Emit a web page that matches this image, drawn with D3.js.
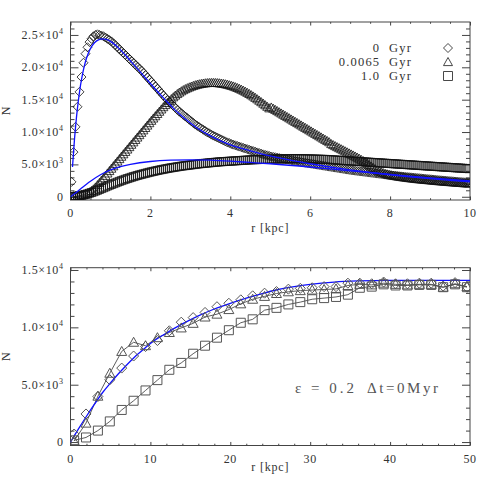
<!DOCTYPE html>
<html><head><meta charset="utf-8">
<script src="https://cdn.jsdelivr.net/npm/d3@7"></script>
<style>body{margin:0;background:#fff}svg{display:block}</style>
</head><body><svg id="c" width="491" height="491"></svg>
<script>
// ---------------- DATA ----------------
// Top panel: radial bins of 0.05 kpc (bin centres)
const topBinWidth = 0.05;
const topDiamond = [2300,6900,10800,13900,16200,18500,20700,22100,23100,23900,
24400,24800,25000,25100,25000,24900,24800,24600,24400,24200,
24000,23700,23400,23100,22800,22500,22200,21900,21600,21300,
21000,20700,20400,20100,19800,19500,19150,18800,18450,18100,
17750,17400,17050,16700,16350,16000,15650,15300,14950,14650,
14350,14050,13750,13450,13150,12900,12650,12400,12150,11900,
11650,11400,11150,10950,10750,10550,10350,10150,9950,9800,
9600,9450,9300,9150,9000,8850,8700,8550,8400,8300,
8150,8050,7950,7850,7750,7650,7550,7450,7350,7250,
7150,7050,6950,6850,6750,6650,6550,6450,6400,6300,
6220,6150,6100,6040,5980,5920,5860,5800,5750,5700,
5640,5580,5520,5470,5420,5360,5300,5250,5200,5150,
5100,5050,5000,4950,4900,4850,4800,4750,4700,4650,
4600,4550,4500,4450,4400,4350,4300,4250,4200,4150,
4100,4060,4020,3980,3940,3900,3860,3820,3780,3740,
3700,3660,3620,3580,3540,3500,3460,3420,3380,3340,
3300,3270,3240,3210,3180,3150,3120,3090,3060,3030,
3000,2970,2940,2910,2880,2850,2820,2790,2760,2730,
2700,2670,2640,2610,2580,2550,2520,2500,2470,2440,
2420,2390,2360,2340,2310,2290,2260,2240,2210,2190];
const topTriangle = [50,80,100,150,200,260,330,420,520,640,
900,1150,1450,1800,2150,2500,2870,3240,3610,3980,
4350,4720,5090,5460,5830,6200,6570,6940,7310,7680,
8050,8420,8790,9160,9530,9900,10270,10640,11010,11380,
11750,12100,12450,12800,13150,13500,13850,14180,14500,14800,
15100,15380,15640,15880,16100,16300,16480,16640,16780,16910,
17030,17140,17240,17320,17390,17450,17500,17540,17570,17590,
17600,17600,17590,17570,17540,17500,17450,17390,17320,17240,
17150,17050,16940,16820,16690,16550,16400,16240,16070,15890,
15700,15500,15290,15070,14850,14620,14390,14150,13910,13670,
13800,13615,13430,13245,13060,12875,12690,12505,12320,12135,
11950,11765,11580,11395,11210,11025,10840,10655,10470,10285,
10100,9915,9730,9545,9360,9175,8990,8805,8620,8435,
8150,7990,7830,7670,7510,7350,7190,7030,6870,6710,
6550,6390,6230,6070,5900,5720,5530,5330,5120,4900,
4680,4470,4270,4090,3930,3790,3670,3570,3480,3400,
3330,3270,3210,3160,3110,3060,3010,2970,2930,2890,
2850,2810,2770,2740,2710,2680,2650,2620,2590,2560,
2530,2500,2470,2440,2410,2390,2360,2330,2310,2280,
2260,2230,2210,2180,2160,2140,2110,2090,2070,2050];
const topSquare = [0,30,60,100,150,210,280,360,450,550,
650,760,880,1000,1130,1260,1390,1520,1650,1780,
1900,2020,2140,2260,2380,2490,2600,2710,2810,2910,
3010,3110,3200,3290,3380,3460,3540,3620,3700,3780,
3850,3920,3990,4060,4130,4190,4250,4310,4370,4430,
4480,4530,4580,4630,4680,4730,4770,4810,4850,4890,
4930,4970,5010,5050,5090,5120,5150,5180,5210,5240,
5270,5300,5330,5360,5390,5410,5430,5450,5470,5490,
5510,5530,5550,5570,5590,5610,5630,5650,5670,5690,
5710,5720,5730,5740,5750,5760,5770,5780,5790,5800,
5810,5820,5830,5840,5850,5860,5860,5870,5870,5880,
5880,5880,5880,5880,5880,5870,5870,5860,5860,5850,
5840,5830,5820,5810,5800,5790,5780,5770,5760,5740,
5720,5700,5680,5660,5640,5620,5600,5580,5560,5540,
5520,5500,5480,5460,5440,5420,5400,5380,5360,5340,
5320,5300,5280,5260,5240,5220,5200,5180,5160,5140,
5120,5100,5080,5060,5040,5020,5000,4980,4960,4940,
4920,4900,4880,4860,4840,4820,4800,4780,4760,4740,
4720,4700,4680,4660,4640,4620,4600,4580,4560,4540,
4520,4500,4480,4460,4440,4420,4400,4380,4360,4340];
// Top panel blue model curves
const fitA_r = [0.05,0.1,0.15,0.2,0.25,0.3,0.35,0.4,0.5,0.6,0.7,0.8,0.9,1.0,1.2,1.4,1.6,1.8,2.0,2.2,2.4,2.6,2.8,3.0,3.2,3.5,4.0,4.5,5.0,5.5,6.0,6.5,7.0,7.5,8.0,8.5,9.0,9.5,10.0];
const fitA_v = [4600,8900,12300,15000,17200,18900,20300,21400,22900,23800,24250,24400,24300,24000,23000,21700,20300,18900,17500,16100,14800,13500,12400,11400,10500,9400,8000,7100,6300,5650,5100,4600,4150,3750,3400,3080,2800,2550,2320];
const fitB_r = [0,0.1,0.25,0.5,0.75,1.0,1.25,1.5,2.0,2.5,3.0,3.5,4.0,4.5,5.0,6.0,7.0,8.0,9.0,10.0];
const fitB_v = [0,450,1200,2400,3400,4150,4650,5000,5450,5650,5700,5650,5500,5300,5100,4600,4000,3450,2900,2450];

// Bottom panel: cumulative counts at 34 radii
const botR = [0.45,1.94,3.43,4.92,6.41,7.9,9.39,10.88,12.37,13.86,15.35,16.84,18.33,19.82,21.31,22.8,24.29,25.78,27.27,28.76,30.25,31.74,33.23,34.72,36.21,37.7,39.19,40.68,42.17,43.66,45.15,46.64,48.13,49.62];
const botDiamond = [700,2450,3970,5430,6450,7500,8330,8850,9700,10450,10850,11300,11800,12100,12400,12750,12980,13120,13330,13400,13450,13550,13550,13850,13850,13800,13950,13800,13800,13850,13850,13600,13900,13500];
const botTriangle = [100,1650,4000,6000,7900,8700,8400,9100,9550,9950,10350,10900,11150,11550,12050,12450,12700,12950,13100,13200,13250,13300,13350,13650,13750,13700,13850,13750,13700,13750,13750,13500,13800,13550];
const botSquare = [150,400,1000,1800,2800,3600,4500,5400,6300,6900,7700,8400,9100,9750,10400,10700,11500,11700,12000,12200,12450,12550,12650,12850,13450,13550,13750,13650,13650,13700,13700,13500,13750,13500];
const fitC_r = [0,1,2,3,4,5,6,7,8,9,10,12,14,16,18,20,22,24,26,28,30,33,36,40,45,50];
const fitC_v = [0,1150,2250,3300,4300,5150,5950,6700,7400,8000,8600,9500,10300,11000,11600,12100,12550,12950,13300,13550,13750,13950,14050,14100,14100,14100];

// Ticks and labels
const topXTicks = [0,2,4,6,8,10];
const topYTicks = [0,5000,10000,15000,20000,25000];
const topYLabels = [["0",""],["5.0×10","3"],["1.0×10","4"],["1.5×10","4"],["2.0×10","4"],["2.5×10","4"]];
const botXTicks = [0,10,20,30,40,50];
const botYTicks = [0,5000,10000,15000];
const botYLabels = [["0",""],["5.0×10","3"],["1.0×10","4"],["1.5×10","4"]];
const legendLabels = ["0 Gyr","0.0065 Gyr","1.0 Gyr"];
const xTitle = "r [kpc]";
const yTitle = "N";

// ---------------- DRAWING ----------------
const svg = d3.select("#c");
const FONT = "'Liberation Serif','DejaVu Serif',serif";
const TXT = "#333";

const symDiamond = {draw(c,s){c.moveTo(0,-s);c.lineTo(s,0);c.lineTo(0,s);c.lineTo(-s,0);c.closePath();}};
const symTri = {draw(c,s){c.moveTo(0,-s);c.lineTo(s,0.8*s);c.lineTo(-s,0.8*s);c.closePath();}};
const symSquare = {draw(c,s){c.rect(-s,-s,2*s,2*s);}};

function panel(cfg){
  const g = svg.append("g");
  const x = d3.scaleLinear().domain(cfg.xd).range([cfg.L, cfg.R]);
  const y = d3.scaleLinear().domain(cfg.yd).range([cfg.B, cfg.T]);
  const id = "clip"+cfg.name;
  svg.append("clipPath").attr("id",id).append("rect")
    .attr("x",cfg.L).attr("y",cfg.T).attr("width",cfg.R-cfg.L).attr("height",cfg.B-cfg.T);
  const H = cfg.B-cfg.T, W = cfg.R-cfg.L;
  const xMaj = 0.02*H, yMaj = 0.02*W;
  const axC = "#444";
  function ax(gen, tr){
    const a = g.append("g").attr("transform",tr).call(gen);
    a.select(".domain").remove();
    a.selectAll("line").attr("stroke",axC).attr("stroke-width",1);
    a.selectAll("text").remove();
  }
  ax(d3.axisBottom(x).tickValues(cfg.xMajor).tickSizeInner(-xMaj).tickSizeOuter(0), `translate(0,${cfg.B})`);
  ax(d3.axisBottom(x).tickValues(cfg.xMinor).tickSizeInner(-xMaj/2).tickSizeOuter(0), `translate(0,${cfg.B})`);
  ax(d3.axisTop(x).tickValues(cfg.xMajor).tickSizeInner(-xMaj).tickSizeOuter(0), `translate(0,${cfg.T})`);
  ax(d3.axisTop(x).tickValues(cfg.xMinor).tickSizeInner(-xMaj/2).tickSizeOuter(0), `translate(0,${cfg.T})`);
  ax(d3.axisLeft(y).tickValues(cfg.yMajor).tickSizeInner(-yMaj).tickSizeOuter(0), `translate(${cfg.L},0)`);
  ax(d3.axisLeft(y).tickValues(cfg.yMinor).tickSizeInner(-yMaj/2).tickSizeOuter(0), `translate(${cfg.L},0)`);
  ax(d3.axisRight(y).tickValues(cfg.yMajor).tickSizeInner(-yMaj).tickSizeOuter(0), `translate(${cfg.R},0)`);
  ax(d3.axisRight(y).tickValues(cfg.yMinor).tickSizeInner(-yMaj/2).tickSizeOuter(0), `translate(${cfg.R},0)`);
  g.append("rect").attr("x",cfg.L).attr("y",cfg.T).attr("width",W).attr("height",H)
    .attr("fill","none").attr("stroke",axC).attr("stroke-width",1);
  // x tick labels
  g.selectAll(null).data(cfg.xMajor).join("text")
    .attr("x",d=>x(d)).attr("y",cfg.B+17).attr("text-anchor","middle")
    .attr("font-family",FONT).attr("font-size",12).attr("fill",TXT).attr("letter-spacing",0.6)
    .text(d=>d);
  // y tick labels
  const yl = g.selectAll(null).data(cfg.yMajor).join("text")
    .attr("x",cfg.L-7).attr("y",d=>y(d)+4).attr("text-anchor","end")
    .attr("font-family",FONT).attr("font-size",12).attr("fill",TXT).attr("letter-spacing",0.6);
  yl.each(function(d,i){
    const t = d3.select(this); const lab = cfg.yLabels[i];
    t.append("tspan").text(lab[0]);
    if(lab[1]) t.append("tspan").attr("dy",-5).attr("font-size",8).text(lab[1]);
  });
  // titles
  g.append("text").attr("x",(cfg.L+cfg.R)/2).attr("y",cfg.xTitleY).attr("text-anchor","middle")
    .attr("font-family",FONT).attr("font-size",12).attr("fill",TXT).attr("letter-spacing",0.8).text(xTitle);
  g.append("text").attr("transform",`translate(10,${(cfg.T+cfg.B)/2}) rotate(-90)`).attr("text-anchor","middle")
    .attr("font-family",FONT).attr("font-size",12).attr("fill",TXT).text(yTitle);
  const plot = g.append("g").attr("clip-path",`url(#${id})`);
  return {x,y,plot,g};
}

// ---- Top panel ----
const P1 = panel({name:"t",L:70.5,R:470,T:22,B:200,xd:[0,10],yd:[-500,27000],
  xMajor:topXTicks, xMinor:d3.range(0,10.01,0.5).filter(v=>v%2!==0),
  yMajor:topYTicks, yMinor:d3.range(0,27000,1000).filter(v=>v%5000!==0),
  yLabels:topYLabels, xTitleY:232});
const topR = topDiamond.map((_,i)=>(i+0.5)*topBinWidth);
function markers(P, rs, vs, sym, s, col, w){
  P.plot.append("g").selectAll("path").data(vs).join("path")
    .attr("transform",(v,i)=>`translate(${P.x(rs[i])},${P.y(v)})`)
    .attr("d",d3.symbol().type(sym).size(s))
    .attr("fill","none").attr("stroke",col).attr("stroke-width",w);
}
markers(P1, topR, topSquare, symSquare, 4, "#111", 0.8);
markers(P1, topR, topTriangle, symTri, 4.5, "#111", 0.8);
markers(P1, topR, topDiamond, symDiamond, 4.5, "#111", 0.8);
function fitLine(P, rs, vs, w){
  P.plot.append("path").datum(vs)
    .attr("d", d3.line().x((v,i)=>P.x(rs[i])).y(v=>P.y(v)).curve(d3.curveMonotoneX))
    .attr("fill","none").attr("stroke","#1010ff").attr("stroke-width",w);
}
fitLine(P1, fitA_r, fitA_v, 1.3);
fitLine(P1, fitB_r, fitB_v, 1.3);

// legend
const legY = [48,62,76];
const legSyms = [symDiamond, symTri, symSquare];
const legSize = [4.5,4.5,4.5];
legendLabels.forEach((lab,i)=>{
  P1.g.append("text").attr("x",412).attr("y",legY[i]+4).attr("text-anchor","end")
    .attr("font-family",FONT).attr("font-size",12.5).attr("fill",TXT).attr("letter-spacing",1.2)
    .attr("xml:space","preserve").text(lab.replace(" ","  "));
  P1.g.append("path").attr("transform",`translate(448,${legY[i]})`)
    .attr("d",d3.symbol().type(legSyms[i]).size(legSize[i]))
    .attr("fill","none").attr("stroke","#333").attr("stroke-width",0.9);
});

// ---- Bottom panel ----
const P2 = panel({name:"b",L:70.5,R:470,T:267.7,B:445.5,xd:[0,50],yd:[-300,15200],
  xMajor:botXTicks, xMinor:d3.range(0,50.01,2).filter(v=>v%10!==0),
  yMajor:botYTicks, yMinor:d3.range(0,15200,1000).filter(v=>v%5000!==0),
  yLabels:botYLabels, xTitleY:471});
function connect(P, rs, vs){
  P.plot.append("path").datum(vs)
    .attr("d", d3.line().x((v,i)=>P.x(rs[i])).y(v=>P.y(v)))
    .attr("fill","none").attr("stroke","#333").attr("stroke-width",0.8);
}
connect(P2, botR, botTriangle);
connect(P2, botR, botSquare);
fitLine(P2, fitC_r, fitC_v, 1.3);
markers(P2, botR, botSquare, symSquare, 4.5, "#555", 1);
markers(P2, botR, botTriangle, symTri, 5, "#555", 1);
markers(P2, botR, botDiamond, symDiamond, 5, "#555", 1);

// annotation
P2.g.append("text").attr("x",295).attr("y",393).attr("font-family",FONT).attr("font-size",15)
  .attr("fill","#555").attr("textLength",59).attr("lengthAdjust","spacing").text("ε = 0.2");
P2.g.append("text").attr("x",367).attr("y",393).attr("font-family",FONT).attr("font-size",15)
  .attr("fill","#555").attr("textLength",71).attr("lengthAdjust","spacing").text("Δt=0Myr");
</script></body></html>
